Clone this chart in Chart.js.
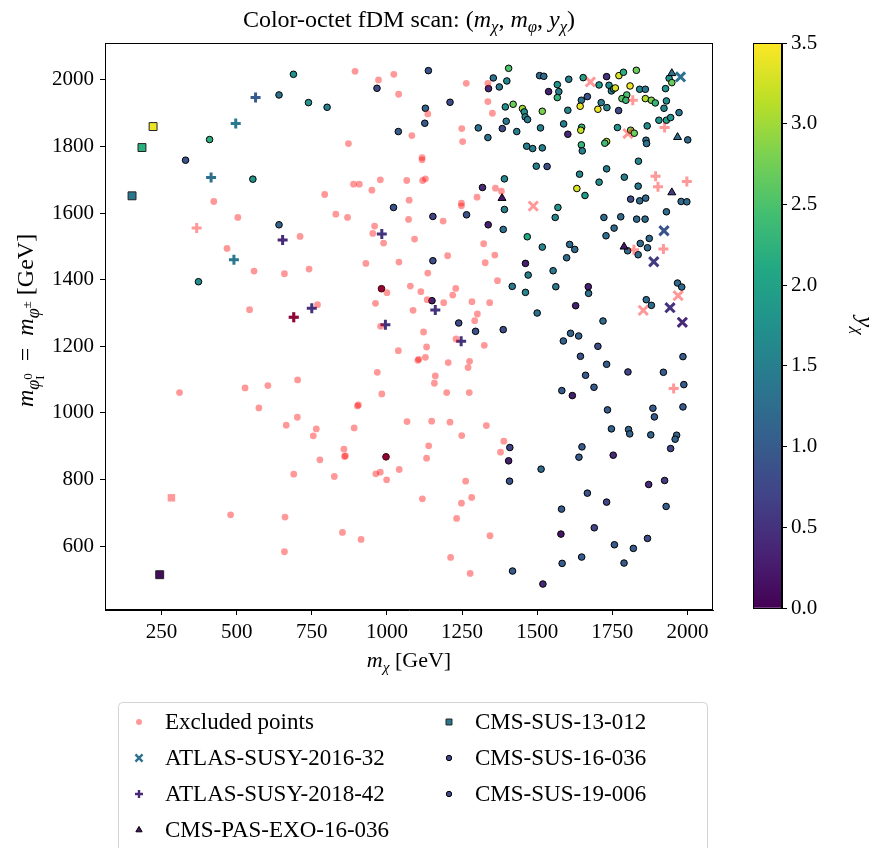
<!DOCTYPE html>
<html>
<head>
<meta charset="utf-8">
<script src="https://cdn.jsdelivr.net/npm/chart.js@4.4.1/dist/chart.umd.min.js"></script>
<style>
html, body { margin: 0; padding: 0; background: #fff; }
#wrap { position: relative; width: 876px; height: 848px; }
canvas { position: absolute; left: 0; top: 0; }
</style>
</head>
<body>
<div id="wrap">
  <canvas id="main" width="876" height="848"></canvas>
  <canvas id="cbar" width="876" height="848"></canvas>
</div>
<script>
// ---- data: [m_chi, m_phi] for excluded points, [m_chi, m_phi, y_chi] for allowed ones
var xTicks = [250, 500, 750, 1000, 1250, 1500, 1750, 2000];
var yTicks = [600, 800, 1000, 1200, 1400, 1600, 1800, 2000];
var cbTicks = [0, 0.5, 1, 1.5, 2, 2.5, 3, 3.5];

var legendNames = ['Excluded points', 'ATLAS-SUSY-2016-32', 'ATLAS-SUSY-2018-42', 'CMS-PAS-EXO-16-036',
                   'CMS-SUS-13-012', 'CMS-SUS-16-036', 'CMS-SUS-19-006'];

var excludedCircle = [
  [424,1635],[504,1587],[711,1530],[468,1494],[558,1426],[659,1418],[741,1432],[543,1310],[310,1061],[528,1075],
  [604,1082],[703,1099],[574,1015],[702,987],[665,963],[690,816],[480,694],[661,687],[659,583],
  [894,2026],[972,2000],[1023,2017],[1039,1957],[1136,1898],[1264,1990],[1336,1990],[1336,1935],[1351,1900],
  [1083,1833],[1249,1854],[1252,1815],[872,1809],[1117,1767],[1117,1760],[889,1687],[908,1687],[978,1700],
  [1066,1698],[1119,1698],[1128,1703],[793,1656],[950,1669],[1074,1639],[830,1597],[869,1587],[1072,1581],
  [1187,1576],[1248,1630],[1248,1622],[1300,1648],[1361,1675],[1381,1666],[959,1561],[953,1539],
  [989,1510],[1092,1522],[1322,1508],[1359,1474],[1202,1472],[1327,1451],[930,1449],[1040,1453],[1136,1420],
  [1368,1397],[1078,1381],[1113,1364],[1229,1374],[1219,1354],[982,1373],[1000,1361],[1134,1340],[1189,1331],
  [1283,1334],[1342,1331],[769,1325],[962,1329],[1087,1308],[1301,1297],[1292,1277],[979,1260],[1122,1243],
  [1230,1222],[1132,1198],[1038,1187],[1324,1203],[1103,1158],[1106,1161],[1128,1167],[1204,1151],[1275,1155],
  [1270,1136],[968,1122],[1161,1111],[1158,1089],[983,1057],[1199,1061],[1274,1061],[902,1021],[905,1024],
  [765,952],[755,931],[891,955],[1067,974],[1149,975],[1210,972],[1331,962],[1249,932],[1389,915],[1378,882],
  [857,891],[859,869],[862,871],[777,859],[997,868],[1139,901],[1132,864],[825,809],[963,817],[978,822],
  [999,799],[1041,830],[1262,795],[1118,742],[1248,729],[1282,746],[1232,683],[852,641],[914,620],[1343,631],
  [1212,566],[1277,518]
];
var excludedX = [[1677,1994],[1802,1839],[1487,1621],[1969,1352],[1853,1308]];
var excludedPlus = [[367,1555],[1818,1939],[1924,1857],[1894,1711],[1902,1679],[1998,1695],[1822,1490],
                    [1920,1492],[1954,1073],[690,1287]];
var excludedSquare = [[283,745]];

var atlas1632 = [[1977,2009,1.3],[1922,1547,0.9],[1888,1454,0.6],[1942,1316,0.5],[1983,1272,0.4]];
var atlas1842 = [[653,1519,0.4],[563,1947,1.0],[497,1869,1.4],[415,1707,1.3],[491,1460,1.4],[690,1287,0.1],
                 [750,1314,0.5],[983,1537,0.5],[1161,1309,0.5],[995,1265,0.5],[1247,1215,0.5]];
var cmsExo = [[1383,1645,0.2],[1948,2020,1.3],[1967,1828,1.2],[1948,1662,0.6],[1789,1499,0.2]];
var cms13 = [[152,1652,1.4],[222,1860,3.4],[185,1797,2.2],[244,514,0.1]];
var cms16 = [
  [1153,1590,0.7],[689,2017,1.75],[641,1955,1.3],[739,1932,1.8],[410,1821,2.2],[330,1759,0.9],[554,1702,1.8],
  [641,1565,1.1],[373,1394,1.7],[801,1918,1.5],[1138,2028,0.9],[967,1975,0.8],[1128,1915,1.1],[1210,1933,0.8],
  [1354,2006,1.3],[1338,1974,0.4],[1374,1979,1.4],[1399,1997,1.6],[1405,2035,2.5],[1394,1919,1.7],[1126,1870,1.0],
  [1038,1845,1.0],[1304,1856,1.3],[1336,1827,1.3],[1384,1854,0.8],[1397,1876,1.4],[1022,1617,0.9],[1265,1595,0.9],
  [1318,1677,0.4],[1391,1703,1.6],[1391,1611,1.5],[1337,1565,0.3],[1387,1551,1.3],[1153,1457,0.8],[982,1373,0.1],
  [1150,1337,0.3],[1239,1270,0.8],[1295,1245,0.9],[1387,1250,0.8],[997,868,0.1],[1409,896,0.7],[1405,856,0.3],
  [1408,795,0.9],[1417,1380,1.4],[1418,525,1.0]
];
var cms19 = [
  [1771,1908,0.8],[1513,831,1.2],[1747,952,1.1],[1804,950,1.1],[1808,937,1.1],[1878,934,1.1],[1964,933,1.1],
  [1959,921,1.1],[1944,893,0.7],[1649,898,1.0],[1639,867,1.0],[1753,873,0.4],[1890,988,1.0],[1667,759,0.9],
  [1731,732,0.7],[1871,785,0.4],[1924,797,0.6],[1929,719,1.0],[1581,711,1.0],[1579,636,0.2],[1690,655,0.7],
  [1757,604,1.0],[1820,593,1.0],[1867,623,0.8],[1583,548,1.0],[1648,567,1.0],[1789,549,1.0],[1519,486,0.4],
  [1467,1529,2.1],[1517,1498,1.6],[1608,1506,1.2],[1625,1491,1.2],[1598,1466,1.2],[1461,1449,0.3],[1470,1414,1.5],
  [1553,1427,1.4],[1461,1362,1.6],[1562,1379,1.4],[1670,1379,0.3],[1671,1359,1.3],[1628,1322,0.3],[1500,1300,1.3],
  [1719,1276,1.2],[1729,1532,1.3],[1756,1555,1.2],[1801,1487,1.2],[1836,1475,1.2],[1843,1509,1.2],[1873,1524,1.2],
  [1867,1496,1.2],[1967,1390,1.2],[1981,1378,1.2],[1863,1340,1.2],[1880,1323,1.2],[1611,1239,1.1],[1638,1231,1.1],
  [1587,1216,1.1],[1702,1200,0.8],[1644,1170,0.9],[1731,1146,1.0],[1802,1123,0.7],[1920,1122,1.0],[1985,1169,1.0],
  [1988,1085,1.0],[1661,1113,1.0],[1689,1077,1.0],[1582,1067,1.0],[1617,1052,0.3],[1734,1009,1.0],[1885,1014,1.0],
  [1985,1018,1.0],
  [1508,2013,1.2],[1522,2011,1.2],[1605,2002,1.5],[1653,2007,2.0],[1731,2010,0.5],[1772,2013,3.3],[1787,2023,2.2],
  [1830,2029,2.7],[1939,2005,1.8],[1948,1992,2.7],[1927,1974,1.8],[1567,1986,1.8],[1572,1965,1.5],[1538,1965,0.3],
  [1567,1947,2.3],[1706,1985,1.9],[1739,1984,1.7],[1747,1967,1.6],[1754,1973,1.6],[1760,1976,3.3],[1809,1982,3.4],
  [1841,1972,1.6],[1860,1972,1.4],[1667,1950,0.9],[1647,1939,1.3],[1420,1927,2.7],[1451,1914,3.0],[1457,1904,1.7],
  [1517,1906,2.8],[1460,1889,1.6],[1468,1881,1.4],[1602,1909,1.6],[1643,1921,3.4],[1713,1932,1.5],[1702,1912,3.4],
  [1732,1917,1.6],[1798,1955,2.5],[1782,1944,2.6],[1795,1939,2.3],[1860,1944,3.1],[1880,1939,2.8],[1893,1931,2.3],
  [1930,1937,1.7],[1922,1915,1.6],[1972,1902,1.4],[1432,1845,1.5],[1511,1856,1.5],[1588,1868,1.5],[1602,1837,0.4],
  [1648,1858,2.3],[1645,1849,3.2],[1767,1857,1.8],[1811,1849,2.8],[1823,1840,2.7],[1866,1862,1.7],[1905,1879,1.8],
  [1930,1879,2.0],[1944,1887,1.8],[2001,1820,1.2],[1862,1819,1.3],[1864,1809,1.3],[1731,1815,3.1],[1725,1810,2.4],
  [1647,1805,2.3],[1650,1787,1.5],[1465,1801,1.5],[1485,1794,1.5],[1517,1796,1.5],[1497,1741,1.5],[1533,1740,0.8],
  [1641,1717,1.6],[1731,1733,1.4],[1837,1756,1.6],[1790,1708,1.5],[1706,1693,1.7],[1836,1681,1.4],[1811,1642,0.8],
  [1841,1637,1.2],[1861,1645,1.2],[1979,1635,1.2],[1998,1634,1.2],[1632,1674,3.3],[1659,1653,1.9],[1569,1617,1.8],
  [1560,1587,1.6],[1722,1587,1.2],[1778,1589,1.2],[1831,1582,1.2],[1859,1582,1.2],[1930,1604,1.2]
];

// ---- helpers
var FONT = "'Liberation Serif', 'DejaVu Serif', serif";
var PINK = 'rgba(255,0,0,0.4)';
var YMAX = 3.5;
var VIR = ['#440154','#482475','#414487','#355f8d','#2a788e','#21918c','#22a884','#44bf70','#7ad151','#bddf26','#fde725'];

function hexRgb(h) {
    return [parseInt(h.substr(1,2),16), parseInt(h.substr(3,2),16), parseInt(h.substr(5,2),16)];
}
function viridis(v) {
    var t = Math.max(0, Math.min(1, v / YMAX)) * 10;
    var i = Math.min(9, Math.floor(t)), f = t - i;
    var a = hexRgb(VIR[i]), b = hexRgb(VIR[i+1]);
    return 'rgb(' + [0,1,2].map(function (k) { return Math.round(a[k] + (b[k]-a[k]) * f); }).join(',') + ')';
}
function pts(arr) { return arr.map(function (p) { return {x: p[0], y: p[1]}; }); }
function cols(arr) { return arr.map(function (p) { return viridis(p[2]); }); }

// draws text pieces with sub/superscripts; parts: {t, it, s, dy, stack}
function drawRich(ctx, parts, x, y, size) {
    var cur = 0, lastStart = 0, lay = [];
    parts.forEach(function (p) {
        ctx.font = (p.it ? 'italic ' : '') + (size * (p.s || 1)) + 'px ' + FONT;
        var w = ctx.measureText(p.t).width, px;
        if (p.stack) { px = lastStart; cur = Math.max(cur, px + w); }
        else { px = cur; cur += w; lastStart = px; }
        lay.push([p, px]);
    });
    ctx.fillStyle = '#000';
    ctx.textAlign = 'left';
    ctx.textBaseline = 'alphabetic';
    lay.forEach(function (l) {
        var p = l[0];
        ctx.font = (p.it ? 'italic ' : '') + (size * (p.s || 1)) + 'px ' + FONT;
        ctx.fillText(p.t, x - cur / 2 + l[1], y + (p.dy || 0) * size);
    });
}

// ---- datasets
var exMarks = [];
var exData = [];
[[excludedCircle, 'circle'], [excludedX, 'crossRot'], [excludedPlus, 'cross'], [excludedSquare, 'rect']].forEach(function (g) {
    g[0].forEach(function (p) { exData.push({x: p[0], y: p[1]}); exMarks.push(g[1]); });
});
function markerRadius(m) { return {circle: 3.4, crossRot: 6.5, cross: 5, rect: 5.3, triangle: 4.3}[m]; }
function markerBorder(m) { return (m === 'cross' || m === 'crossRot') ? 3 : 0; }

var datasets = [
    {
        label: legendNames[0], data: exData,
        pointStyle: exMarks, pointRadius: exMarks.map(markerRadius), pointBorderWidth: exMarks.map(markerBorder),
        pointBackgroundColor: PINK, pointBorderColor: PINK
    },
    {
        label: legendNames[1], data: pts(atlas1632), pointStyle: 'crossRot', pointRadius: 6.5, pointBorderWidth: 3,
        pointBorderColor: cols(atlas1632), pointBackgroundColor: cols(atlas1632)
    },
    {
        label: legendNames[2], data: pts(atlas1842), pointStyle: 'cross', pointRadius: 5, pointBorderWidth: 3,
        pointBorderColor: cols(atlas1842), pointBackgroundColor: cols(atlas1842)
    },
    {
        label: legendNames[3], data: pts(cmsExo), pointStyle: 'triangle', pointRadius: 4.6, pointBorderWidth: 1,
        pointBorderColor: '#000', pointBackgroundColor: cols(cmsExo)
    },
    {
        label: legendNames[4], data: pts(cms13), pointStyle: 'rect', pointRadius: 5.6, pointBorderWidth: 1,
        pointBorderColor: '#222', pointBackgroundColor: cols(cms13)
    },
    {
        label: legendNames[5], data: pts(cms16), pointStyle: 'circle', pointRadius: 3.3, pointBorderWidth: 1,
        pointBorderColor: '#000', pointBackgroundColor: cols(cms16)
    },
    {
        label: legendNames[6], data: pts(cms19), pointStyle: 'circle', pointRadius: 3.3, pointBorderWidth: 1,
        pointBorderColor: '#000', pointBackgroundColor: cols(cms19)
    }
];

// legend marker look, first point colour of each set (like matplotlib)
var legendMarks = [
    {style: 'circle', r: 3, bw: 0, fill: PINK, stroke: PINK},
    {style: 'crossRot', r: 5, bw: 2.4, fill: viridis(atlas1632[0][2]), stroke: viridis(atlas1632[0][2])},
    {style: 'cross', r: 4, bw: 2.4, fill: viridis(atlas1842[0][2]), stroke: viridis(atlas1842[0][2])},
    {style: 'triangle', r: 3.6, bw: 1, fill: viridis(cmsExo[0][2]), stroke: '#000'},
    {style: 'rect', r: 4.2, bw: 1, fill: viridis(cms13[0][2]), stroke: '#222'},
    {style: 'circle', r: 2.7, bw: 1, fill: viridis(cms16[0][2]), stroke: '#000'},
    {style: 'circle', r: 2.7, bw: 1, fill: viridis(cms19[0][2]), stroke: '#000'}
];

var decorations = {
    id: 'decorations',
    afterDraw: function (chart) {
        var ctx = chart.ctx, a = chart.chartArea;
        ctx.save();
        ctx.strokeStyle = '#000';
        ctx.lineWidth = 1;
        ctx.strokeRect(a.left + 0.5, a.top + 0.5, a.right - a.left - 1, a.bottom - a.top - 1);

        // title
        drawRich(ctx, [
            {t: 'Color-octet fDM scan: ('}, {t: 'm', it: 1}, {t: 'χ', it: 1, s: 0.7, dy: 0.22},
            {t: ', '}, {t: 'm', it: 1}, {t: 'φ', it: 1, s: 0.7, dy: 0.22},
            {t: ', '}, {t: 'y', it: 1}, {t: 'χ', it: 1, s: 0.7, dy: 0.22}, {t: ')'}
        ], (a.left + a.right) / 2, 27, 24);

        // x label
        drawRich(ctx, [
            {t: 'm', it: 1}, {t: 'χ', it: 1, s: 0.7, dy: 0.22}, {t: ' [GeV]'}
        ], (a.left + a.right) / 2, 667, 22);

        // y label
        ctx.save();
        ctx.translate(33, (a.top + a.bottom) / 2 - 6);
        ctx.rotate(-Math.PI / 2);
        drawRich(ctx, [
            {t: 'm', it: 1}, {t: 'φ', it: 1, s: 0.75, dy: 0.24},
            {t: 'I', s: 0.55, dy: 0.44}, {t: '0', s: 0.55, dy: -0.04, stack: 1},
            {t: '\u2002=\u2002'}, {t: 'm', it: 1}, {t: 'φ', it: 1, s: 0.75, dy: 0.24}, {t: '±', s: 0.55, dy: -0.1},
            {t: ' [GeV]'}
        ], 0, 0, 24);
        ctx.restore();

        // legend box
        var bx = 118, by = 702, bw = 589, bh = 170;
        ctx.beginPath();
        ctx.roundRect(bx + 0.5, by + 0.5, bw, bh, 4);
        ctx.fillStyle = 'rgba(255,255,255,0.85)';
        ctx.fill();
        ctx.strokeStyle = '#d4d4d4';
        ctx.stroke();
        var rowY = [722, 758, 794, 830];
        var slots = [[139, 0], [139, 1], [139, 2], [139, 3], [449, 0], [449, 1], [449, 2]];
        legendNames.forEach(function (name, i) {
            var mk = legendMarks[i], sx = slots[i][0], sy = rowY[slots[i][1]];
            ctx.fillStyle = mk.fill;
            ctx.strokeStyle = mk.stroke;
            ctx.lineWidth = mk.bw;
            Chart.helpers.drawPoint(ctx, {pointStyle: mk.style, radius: mk.r, borderWidth: mk.bw, rotation: 0}, sx, sy);
            ctx.fillStyle = '#000';
            ctx.font = '23px ' + FONT;
            ctx.textAlign = 'left';
            ctx.textBaseline = 'middle';
            ctx.fillText(name, sx + 26, sy + 1);
        });
        ctx.restore();
    }
};

function fixedTicks(list) {
    return function (scale) { scale.ticks = list.map(function (v) { return {value: v}; }); };
}
function plain(v) { return String(v); }

new Chart(document.getElementById('main'), {
    type: 'scatter',
    data: {datasets: datasets},
    options: {
        responsive: false,
        animation: false,
        events: [],
        layout: {padding: {top: 43, right: 163, bottom: 198, left: 0}},
        plugins: {legend: {display: false}, tooltip: {enabled: false}, title: {display: false}},
        scales: {
            x: {
                type: 'linear', min: 62, max: 2085,
                afterBuildTicks: fixedTicks(xTicks),
                afterFit: function (s) { s.height = 40; },
                ticks: {color: '#000', font: {family: FONT, size: 21}, maxRotation: 0, autoSkip: false, padding: 5,
                        callback: plain},
                grid: {drawOnChartArea: false, tickLength: 5, color: '#000', tickWidth: 1},
                border: {display: true, color: '#000', width: 1}
            },
            y: {
                type: 'linear', min: 408, max: 2111,
                afterBuildTicks: fixedTicks(yTicks),
                afterFit: function (s) { s.width = 105; },
                ticks: {color: '#000', font: {family: FONT, size: 21}, autoSkip: false, padding: 6, callback: plain},
                grid: {drawOnChartArea: false, tickLength: 5, color: '#000', tickWidth: 1},
                border: {display: true, color: '#000', width: 1}
            }
        }
    },
    plugins: [decorations]
});

// ---- colour bar
var cbFrame = {
    id: 'cbFrame',
    afterDraw: function (chart) {
        var ctx = chart.ctx, a = chart.chartArea;
        ctx.save();
        ctx.strokeStyle = '#000';
        ctx.lineWidth = 1;
        ctx.strokeRect(a.left + 0.5, a.top + 0.5, a.right - a.left - 1, a.bottom - a.top);
        ctx.translate(858, (a.top + a.bottom) / 2);
        ctx.rotate(Math.PI / 2);
        drawRich(ctx, [{t: 'y', it: 1}, {t: 'χ', it: 1, s: 0.7, dy: 0.22}], 0, 0, 24);
        ctx.restore();
    }
};

new Chart(document.getElementById('cbar'), {
    type: 'bar',
    data: {
        labels: ['y'],
        datasets: [{
            data: [[0, YMAX]],
            barPercentage: 1, categoryPercentage: 1, borderWidth: 0,
            backgroundColor: function (c) {
                var a = c.chart.chartArea;
                if (!a) return VIR[5];
                var g = c.chart.ctx.createLinearGradient(0, a.bottom, 0, a.top);
                VIR.forEach(function (h, i) { g.addColorStop(i / 10, h); });
                return g;
            }
        }]
    },
    options: {
        responsive: false,
        animation: false,
        events: [],
        layout: {padding: {top: 43, right: 44, bottom: 240, left: 753}},
        plugins: {legend: {display: false}, tooltip: {enabled: false}},
        scales: {
            x: {display: false},
            y: {
                position: 'right', min: 0, max: YMAX,
                afterBuildTicks: fixedTicks(cbTicks),
                afterFit: function (s) { s.width = 50; },
                ticks: {color: '#000', font: {family: FONT, size: 21}, padding: 4,
                        callback: function (v) { return v.toFixed(1); }},
                grid: {drawOnChartArea: false, tickLength: 5, color: '#000', tickWidth: 1},
                border: {display: true, color: '#000', width: 1}
            }
        }
    },
    plugins: [cbFrame]
});
</script>
</body>
</html>
